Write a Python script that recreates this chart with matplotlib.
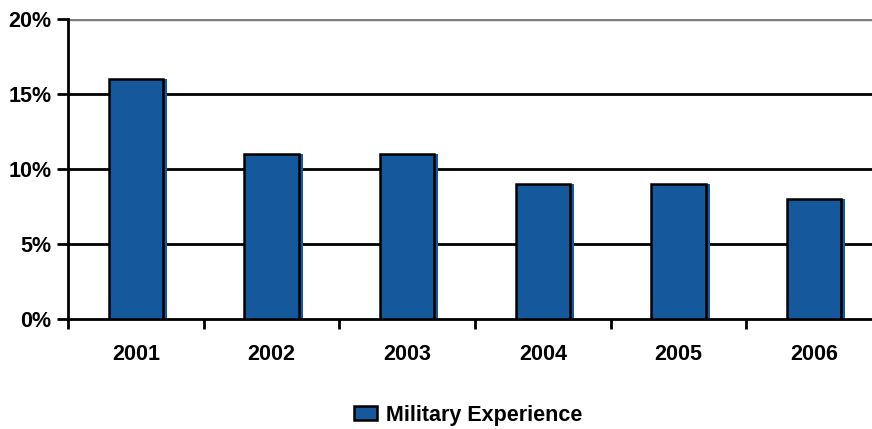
import numpy as np
import matplotlib.pyplot as plt
from matplotlib.patches import Patch

years = ['2001', '2002', '2003', '2004', '2005', '2006']
values = [16, 11, 11, 9, 9, 8]
yticks = [0, 5, 10, 15, 20]

plt.rcParams['font.family'] = ['Liberation Sans', 'DejaVu Sans']
plt.rcParams['font.weight'] = 'bold'
fs = 15.5

fig = plt.figure(figsize=(8.72, 4.29), dpi=100)
ax = fig.add_axes([68 / 872, 110 / 429, 814 / 872, 300 / 429])

x = np.arange(len(years))
blue = '#15589c'
# slight blue offset behind each bar (shadow look)
ax.bar(x + 0.03, values, width=0.4, color=blue, zorder=2)
ax.bar(x, values, width=0.4, color=blue, edgecolor='black', linewidth=1.8, zorder=3)

ax.set_xlim(-0.5, len(years) - 0.5)
ax.set_ylim(0, 20)
ax.set_yticks(yticks)
ax.set_yticklabels([f'{v}%' for v in yticks], fontsize=fs, fontweight='bold')
ax.set_xticks(x)
ax.set_xticklabels(years, fontsize=fs, fontweight='bold')
ax.tick_params(axis='x', length=0, pad=18)
ax.set_xticks(np.arange(len(years) + 1) - 0.5, minor=True)
ax.tick_params(axis='x', which='minor', length=7, width=2, direction='out')
ax.tick_params(axis='y', length=8, width=2, direction='out', pad=4)

for v in yticks[1:-1]:
    ax.axhline(v, color='black', linewidth=2, zorder=1)
ax.axhline(20, color='#808080', linewidth=2.5, zorder=1)

for s in ['top', 'right']:
    ax.spines[s].set_visible(False)
for s in ['left', 'bottom']:
    ax.spines[s].set_linewidth(2)

handle = Patch(facecolor=blue, edgecolor='black', linewidth=1.8)
fig.legend([handle], ['Military Experience'], loc='center', bbox_to_anchor=(468 / 872, 1 - 415 / 429),
           frameon=False, prop={'size': fs, 'weight': 'bold'}, handlelength=1.1, handleheight=0.6,
           handletextpad=0.4)

plt.savefig('out.png', dpi=100)
plt.close()
